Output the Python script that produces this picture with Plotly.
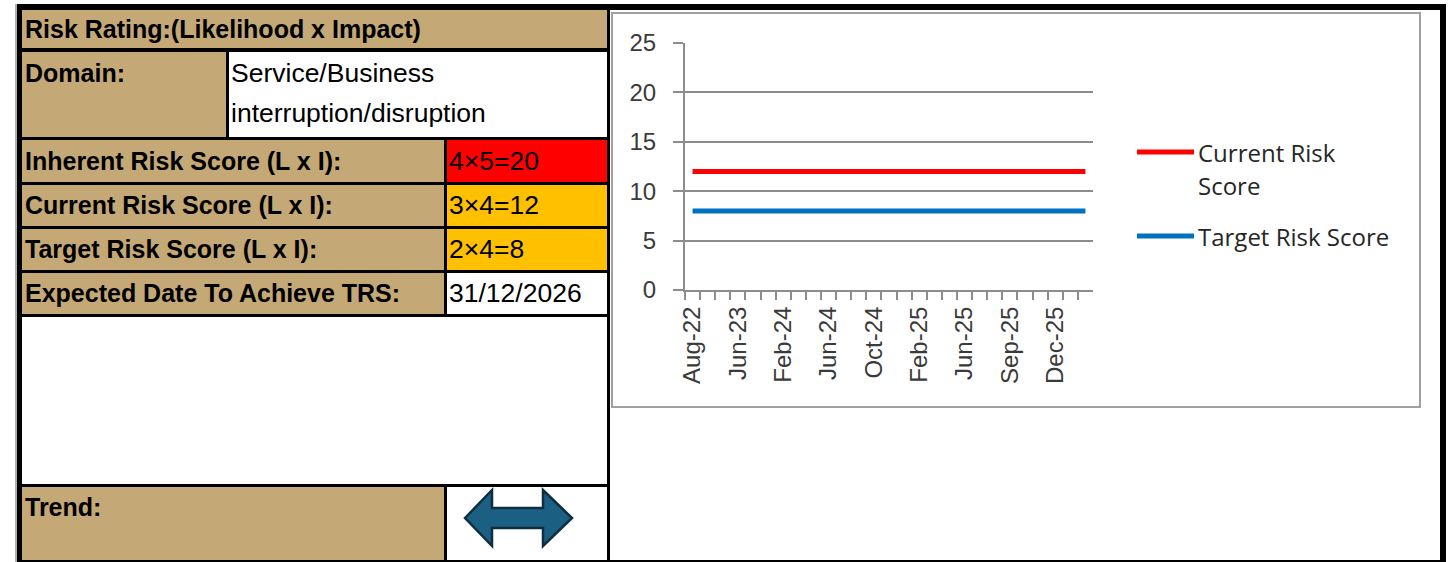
import plotly.graph_objects as go

W, H = 1454, 562

# ---------------- data ----------------
months = ["Aug-22", "Nov-22", "Feb-23", "Jun-23", "Aug-23", "Nov-23", "Feb-24", "Mar-24", "May-24",
          "Jun-24", "Aug-24", "Sep-24", "Oct-24", "Nov-24", "Jan-25", "Feb-25", "Mar-25", "May-25",
          "Jun-25", "Jul-25", "Aug-25", "Sep-25", "Oct-25", "Nov-25", "Dec-25", "Jan-26", "Feb-26"]
current_risk = [12, 12, 12, 12, 12, 12, 12, 12, 12, 12, 12, 12, 12, 12, 12, 12, 12, 12, 12, 12, 12, 12, 12, 12, 12, 12, 12]
target_risk = [8, 8, 8, 8, 8, 8, 8, 8, 8, 8, 8, 8, 8, 8, 8, 8, 8, 8, 8, 8, 8, 8, 8, 8, 8, 8, 8]
shown_labels = ["Aug-22", "Jun-23", "Feb-24", "Jun-24", "Oct-24", "Feb-25", "Jun-25", "Sep-25", "Dec-25"]
y_ticks = [0, 5, 10, 15, 20, 25]

table_title = "Risk Rating:(Likelihood x Impact)"
domain_label = "Domain:"
domain_value = ["Service/Business", "interruption/disruption"]
score_labels = ["Inherent Risk Score (L x I):", "Current Risk Score (L x I):",
                "Target Risk Score (L x I):", "Expected Date To Achieve TRS:"]
score_values = ["4×5=20", "3×4=12", "2×4=8", "31/12/2026"]
trend_label = "Trend:"
legend_names = ["Current Risk Score", "Target Risk Score"]

# ---------------- styling ----------------
TAN = "#C4A875"
RED = "#FF0000"
AMBER = "#FFC000"
GRID = "#8C8C8C"
LINE_RED = "#FF0000"
LINE_BLUE = "#0070C0"
score_fills = [RED, AMBER, AMBER, "white"]


def px(x):
    return x / W


def py(y):
    return 1 - y / H


def rect(x0, y0, x1, y1, fill, line_color=None, line_width=0):
    return dict(type="rect", xref="paper", yref="paper", layer="below",
                x0=px(x0), x1=px(x1), y0=py(y0), y1=py(y1),
                fillcolor=fill,
                line=dict(color=line_color or fill, width=line_width))


shapes = []
# faint outer edge + black frame
shapes.append(rect(15, 4, 17, 562, "#B0B0B0"))
shapes.append(rect(17, 4, 1446, 562, "black"))
# right white section
shapes.append(rect(610, 10, 1440, 560, "white"))
# chart box
shapes.append(rect(612, 13, 1420, 407, "white", "#A0A0A0", 2))

# table cells
shapes.append(rect(22, 10, 607, 48, TAN))
shapes.append(rect(22, 52, 226, 137, TAN))
shapes.append(rect(229, 52, 607, 137, "white"))
row_tops = [140, 185, 229, 273]
row_bots = [182, 226, 270, 314]
for i in range(4):
    shapes.append(rect(22, row_tops[i], 444, row_bots[i], TAN))
    shapes.append(rect(447, row_tops[i], 607, row_bots[i], score_fills[i]))
shapes.append(rect(22, 317, 607, 484, "white"))
shapes.append(rect(22, 487, 444, 560, TAN))
shapes.append(rect(447, 487, 607, 560, "white"))

# trend double arrow
pts = [(465, 518), (492, 490), (492, 508), (543, 508), (543, 490), (572, 518),
       (543, 546), (543, 528), (492, 528), (492, 546)]
path = "M " + " L ".join(f"{px(x):.5f},{py(y):.5f}" for x, y in pts) + " Z"
shapes.append(dict(type="path", xref="paper", yref="paper", path=path,
                   fillcolor="#1B5F82", line=dict(color="#0E2E42", width=2.5)))

# legend lines
shapes.append(dict(type="line", xref="paper", yref="paper", x0=px(1137), x1=px(1194),
                   y0=py(152), y1=py(152), line=dict(color=LINE_RED, width=5)))
shapes.append(dict(type="line", xref="paper", yref="paper", x0=px(1137), x1=px(1194),
                   y0=py(236), y1=py(236), line=dict(color=LINE_BLUE, width=5)))

LBL = dict(family="Liberation Sans, Arial, sans-serif", size=25, color="black", weight="bold")
VAL = dict(family="Liberation Sans, Arial, sans-serif", size=26.5, color="black")
LEG = dict(family="Open Sans, sans-serif", size=24, color="#262626")
TICK = dict(family="Liberation Sans, Arial, sans-serif", size=24, color="#3A3A3A")


def text(x, y, s, font):
    return dict(xref="paper", yref="paper", x=px(x), y=py(y), text=s, showarrow=False,
                xanchor="left", yanchor="middle", font=font, borderpad=0)


annotations = [
    text(24, 29, table_title, LBL),
    text(24, 73, domain_label, LBL),
    text(230, 73, domain_value[0], VAL),
    text(230, 113, domain_value[1], VAL),
    text(24, 507, trend_label, LBL),
]
row_mid = [161, 205, 249, 293]
for i in range(4):
    annotations.append(text(24, row_mid[i], score_labels[i], LBL))
    annotations.append(text(448, row_mid[i], score_values[i], VAL))

annotations.append(text(1197, 152, "Current Risk", LEG))
annotations.append(text(1197, 185, "Score", LEG))
annotations.append(text(1197, 236, legend_names[1], LEG))

fig = go.Figure()
fig.add_trace(go.Scatter(x=months, y=current_risk, mode="lines", name=legend_names[0],
                         line=dict(color=LINE_RED, width=5)))
fig.add_trace(go.Scatter(x=months, y=target_risk, mode="lines", name=legend_names[1],
                         line=dict(color=LINE_BLUE, width=5)))

tick_text = [m if m in shown_labels else "" for m in months]

fig.update_layout(
    width=W, height=H, autosize=False,
    margin=dict(l=0, r=0, t=0, b=0, pad=0, autoexpand=False),
    paper_bgcolor="white", plot_bgcolor="rgba(0,0,0,0)",
    showlegend=False,
    shapes=shapes, annotations=annotations,
    xaxis=dict(domain=[px(685), px(1093)], type="category", range=[-0.5, 26.5],
               automargin=False,
               tickmode="array", tickvals=months, ticktext=tick_text,
               tickson="boundaries", ticks="outside", ticklen=8, tickwidth=2, tickcolor=GRID,
               showline=True, linecolor=GRID, linewidth=2, showgrid=False,
               tickangle=-90, ticklabelstandoff=5, tickfont=TICK),
    yaxis=dict(domain=[py(290), py(43)], range=[0, 25], tickvals=y_ticks,
               automargin=False,
               ticks="outside", ticklen=10, tickwidth=2, tickcolor=GRID,
               showline=True, linecolor=GRID, linewidth=2,
               showgrid=True, gridcolor=GRID, gridwidth=2, zeroline=False,
               ticklabelstandoff=12, tickfont=TICK),
)

fig.write_html("out.html")
